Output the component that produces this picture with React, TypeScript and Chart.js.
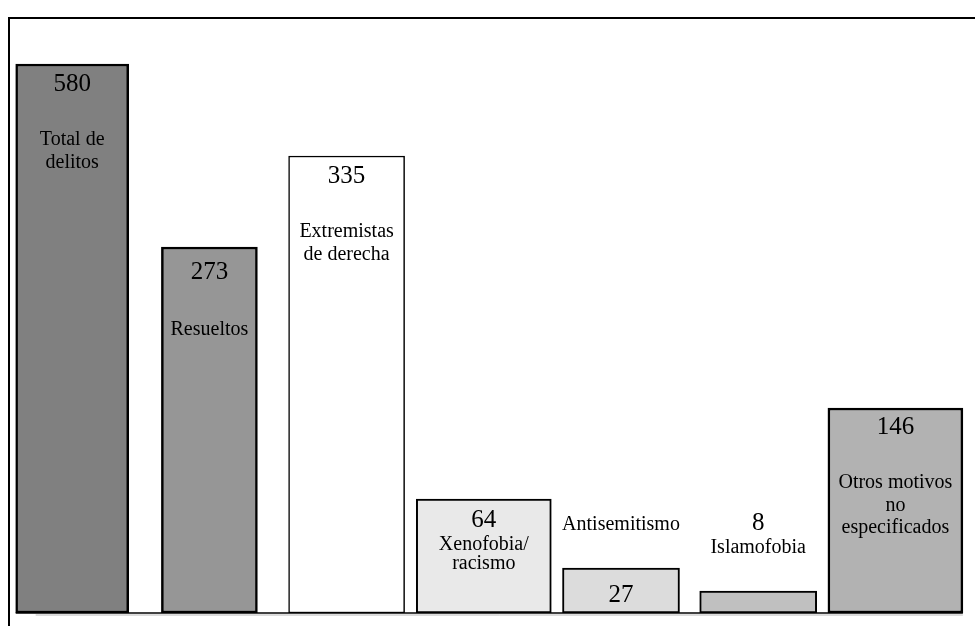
import React, { useEffect, useRef } from "react";
import { Chart, registerables } from "chart.js";

Chart.register(...registerables);

// ---- data ----
const categories = [
  "Total de delitos",
  "Resueltos",
  "Extremistas de derecha",
  "Xenofobia/racismo",
  "Antisemitismo",
  "Islamofobia",
  "Otros motivos no especificados",
];
const printedValues = [580, 273, 335, 64, 27, 8, 146];
// drawn bar heights as they appear in the picture (the original is not to scale)
const barHeights = [549, 366, 457, 114, 45, 22, 205];
const labelLines = [
  ["Total de", "delitos"],
  ["Resueltos"],
  ["Extremistas", "de derecha"],
  ["Xenofobia/", "racismo"],
  ["Antisemitismo"],
  ["Islamofobia"],
  ["Otros motivos", "no", "especificados"],
];

// ---- styles ----
const fills = ["#808080", "#969696", "#ffffff", "#e9e9e9", "#dcdcdc", "#c0c0c0", "#b2b2b2"];
const widths = [113, 96, 116, 135, 117, 117, 135];
const borderWidths = [2.5, 2.5, 1.5, 2, 2, 2, 2.5];
// text placement relative to the bar's top edge (px)
const numOffset = [20, 25, 20, 21, 27, -68, 19];
const labelOffset = [76, 83, 76, 46, -43, -43, 75];
const lineStep = [23, 23, 23, 19, 0, 0, 22.5];

const FONT = "'Liberation Serif', 'Times New Roman', serif";

const textPlugin = {
  id: "barTexts",
  afterDatasetsDraw(chart: any) {
    const ctx = chart.ctx;
    ctx.save();
    // baseline
    const first = chart.getDatasetMeta(0).data[0];
    const lastIdx = categories.length - 1;
    const last = chart.getDatasetMeta(lastIdx).data[lastIdx];
    const yb = chart.chartArea.bottom;
    if (first && last) {
      ctx.strokeStyle = "#000";
      ctx.lineWidth = 1.5;
      ctx.beginPath();
      ctx.moveTo(first.x - widths[0] / 2, yb);
      ctx.lineTo(last.x + widths[lastIdx] / 2, yb);
      ctx.stroke();
      ctx.strokeStyle = "#b8b8b8";
      ctx.lineWidth = 1;
      ctx.beginPath();
      ctx.moveTo(first.x - widths[0] / 2 + 20, yb + 2);
      ctx.lineTo(last.x + widths[lastIdx] / 2, yb + 2);
      ctx.stroke();
    }
    ctx.fillStyle = "#000";
    ctx.textAlign = "center";
    ctx.textBaseline = "middle";
    categories.forEach((_, i) => {
      const el = chart.getDatasetMeta(i).data[i];
      if (!el) return;
      const x = el.x;
      const top = el.y;
      ctx.font = `25px ${FONT}`;
      ctx.fillText(String(printedValues[i]), x, top + numOffset[i]);
      ctx.font = `20px ${FONT}`;
      labelLines[i].forEach((line, k) => {
        ctx.fillText(line, x, top + labelOffset[i] + k * lineStep[i]);
      });
    });
    ctx.restore();
  },
};

export default function App() {
  const ref = useRef<HTMLCanvasElement | null>(null);
  useEffect(() => {
    if (!ref.current) return;
    const datasets = categories.map((c, i) => ({
      label: c,
      data: barHeights.map((h, j) => (j === i ? h : null)),
      backgroundColor: fills[i],
      borderColor: "#000",
      borderWidth: borderWidths[i],
      borderSkipped: false as any,
      barThickness: widths[i],
      grouped: false,
    }));
    const chart = new Chart(ref.current, {
      type: "bar",
      data: { labels: categories, datasets: datasets as any },
      options: {
        animation: false,
        responsive: true,
        maintainAspectRatio: false,
        layout: { padding: { left: 3.6, right: 11, top: 13, bottom: 13 } },
        plugins: { legend: { display: false }, tooltip: { enabled: false } },
        scales: {
          x: { type: "category", display: false, offset: true },
          y: { display: false, min: 0, max: 600 },
        },
      },
      plugins: [textPlugin],
    });
    return () => chart.destroy();
  }, []);
  return (
    <div style={{ position: "fixed", left: 0, top: 0, width: 975, height: 626, background: "#fff" }}>
      <div
        style={{
          position: "absolute",
          left: 8,
          top: 17,
          width: 967,
          height: 609,
          borderTop: "2px solid #000",
          borderLeft: "2px solid #000",
          boxSizing: "border-box",
        }}
      />
      <div style={{ position: "absolute", left: 0, top: 0, width: 975, height: 626 }}>
        <canvas ref={ref} />
      </div>
    </div>
  );
}
